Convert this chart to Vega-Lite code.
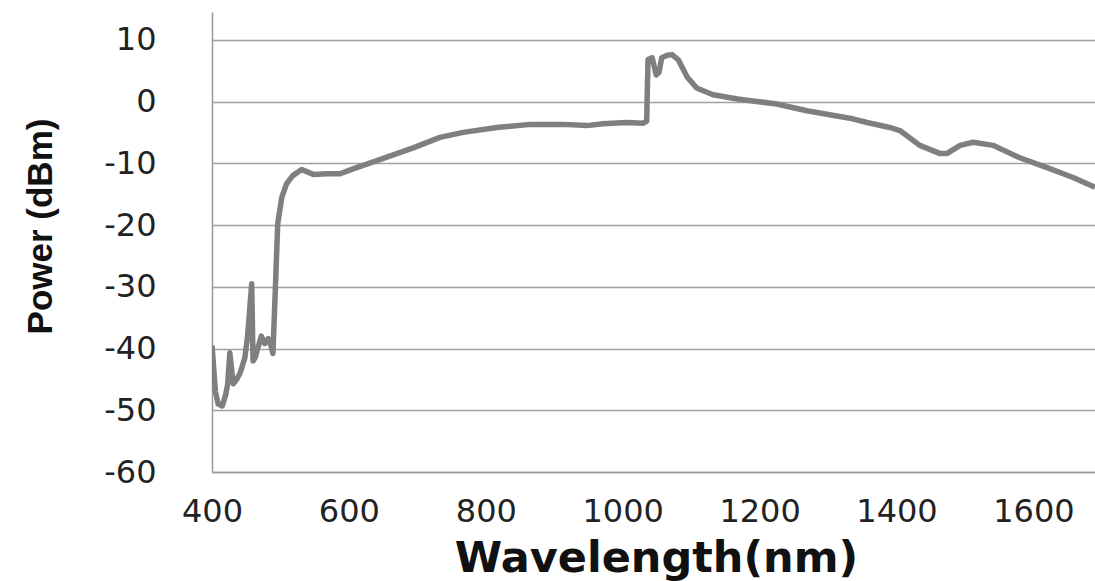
{
  "$schema": "https://vega.github.io/schema/vega-lite/v6.json",
  "autosize": "none",
  "width": 883,
  "height": 460,
  "padding": {"left": 212, "top": 12, "right": 0, "bottom": 109},
  "background": "white",
  "config": {"view": {"stroke": null}},
  "data": {"values": [
    {"w": 400, "p": -39.5}, {"w": 405, "p": -47}, {"w": 409, "p": -49}, {"w": 415, "p": -49.3},
    {"w": 420, "p": -47.5}, {"w": 423, "p": -45.7}, {"w": 426, "p": -40.7}, {"w": 431, "p": -45.7},
    {"w": 436, "p": -45}, {"w": 441, "p": -44}, {"w": 448, "p": -41.5}, {"w": 452, "p": -38},
    {"w": 458, "p": -29.5}, {"w": 460, "p": -42}, {"w": 463, "p": -41.5}, {"w": 466, "p": -40.3},
    {"w": 472, "p": -38}, {"w": 477, "p": -39.2}, {"w": 482, "p": -38.4}, {"w": 486, "p": -39.5},
    {"w": 489, "p": -40.8}, {"w": 492, "p": -32}, {"w": 496, "p": -19.8}, {"w": 502, "p": -15.5},
    {"w": 509, "p": -13.3}, {"w": 518, "p": -12}, {"w": 531, "p": -11}, {"w": 548, "p": -11.8},
    {"w": 568, "p": -11.7}, {"w": 587, "p": -11.7}, {"w": 606, "p": -10.9}, {"w": 645, "p": -9.4},
    {"w": 694, "p": -7.5}, {"w": 733, "p": -5.8}, {"w": 767, "p": -5.0}, {"w": 816, "p": -4.2},
    {"w": 865, "p": -3.7}, {"w": 913, "p": -3.7}, {"w": 948, "p": -3.9}, {"w": 971, "p": -3.6},
    {"w": 1006, "p": -3.4}, {"w": 1030, "p": -3.5}, {"w": 1035, "p": -3.2}, {"w": 1037, "p": 6.8},
    {"w": 1043, "p": 7.1}, {"w": 1049, "p": 4.3}, {"w": 1053, "p": 4.7}, {"w": 1057, "p": 7.1},
    {"w": 1065, "p": 7.5}, {"w": 1072, "p": 7.6}, {"w": 1081, "p": 6.8}, {"w": 1094, "p": 4.0},
    {"w": 1108, "p": 2.2}, {"w": 1132, "p": 1.1}, {"w": 1168, "p": 0.4}, {"w": 1190, "p": 0.1},
    {"w": 1225, "p": -0.4}, {"w": 1269, "p": -1.5}, {"w": 1336, "p": -2.8}, {"w": 1357, "p": -3.4},
    {"w": 1390, "p": -4.2}, {"w": 1405, "p": -4.7}, {"w": 1434, "p": -7.1}, {"w": 1463, "p": -8.4},
    {"w": 1474, "p": -8.4}, {"w": 1493, "p": -7.1}, {"w": 1512, "p": -6.6}, {"w": 1541, "p": -7.1},
    {"w": 1580, "p": -9.1}, {"w": 1620, "p": -10.7}, {"w": 1658, "p": -12.3}, {"w": 1690, "p": -13.9}
  ]},
  "mark": {"type": "line", "color": "#7f7f7f", "strokeWidth": 5.5, "clip": true, "strokeJoin": "round"},
  "encoding": {
    "x": {
      "field": "w", "type": "quantitative",
      "scale": {"domain": [400, 1690], "nice": false, "zero": false},
      "axis": {
        "values": [400, 600, 800, 1000, 1200, 1400, 1600],
        "labelExpr": "'' + datum.value",
        "grid": false, "ticks": false,
        "domainColor": "#999999", "domainWidth": 1.5,
        "labelFont": "DejaVu Sans", "labelFontSize": 32, "labelColor": "#222222",
        "labelPadding": 24, "labelFlush": false,
        "title": "Wavelength(nm)",
        "titleFont": "DejaVu Sans", "titleFontSize": 43, "titleFontWeight": "bold",
        "titleColor": "#111111", "titleX": 444, "titleY": 86, "titleBaseline": "middle", "titleAlign": "center"
      }
    },
    "y": {
      "field": "p", "type": "quantitative",
      "scale": {"domain": [-60, 14.5], "nice": false, "zero": false},
      "axis": {
        "values": [-60, -50, -40, -30, -20, -10, 0, 10],
        "labelExpr": "'' + datum.value",
        "grid": true, "gridColor": "#a0a0a0", "gridWidth": 1.5,
        "ticks": false,
        "domainColor": "#999999", "domainWidth": 1.5,
        "labelFont": "DejaVu Sans", "labelFontSize": 32, "labelColor": "#222222",
        "labelPadding": 56,
        "title": "Power (dBm)",
        "titleFont": "Liberation Sans", "titleFontSize": 35, "titleFontWeight": "bold",
        "titleColor": "#111111", "titleAngle": -90,
        "titleX": -172, "titleY": 214, "titleBaseline": "middle", "titleAlign": "center"
      }
    }
  }
}
